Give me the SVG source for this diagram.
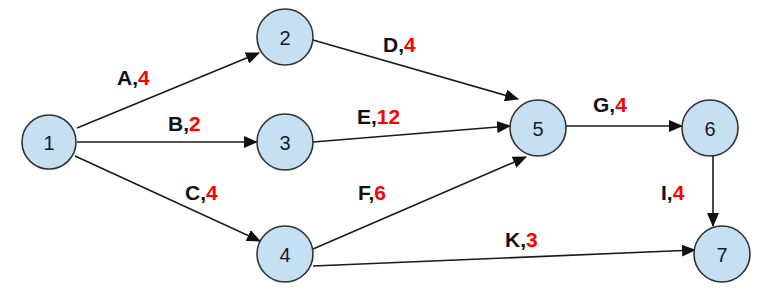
<svg xmlns="http://www.w3.org/2000/svg" width="778" height="298" viewBox="0 0 778 298">
<style>
.n{fill:#c6e0f3;stroke:#333;stroke-width:1.6}
.nt{font-family:"Liberation Sans",Arial,sans-serif;font-size:20px;fill:#1a1a2a;text-anchor:middle;dominant-baseline:central}
.e{stroke:#1a1a1a;stroke-width:1.6;fill:none;marker-end:url(#ah)}
.l{font-family:"Liberation Sans",Arial,sans-serif;font-size:21px;font-weight:bold;fill:#111}
.r{fill:#ff0000}
</style>
<defs>
<marker id="ah" markerUnits="userSpaceOnUse" markerWidth="14" markerHeight="12" refX="13" refY="6" orient="auto">
<path d="M0,0 L14,6 L0,12 Z" fill="#111"/>
</marker>
</defs>
<rect width="778" height="298" fill="#fff"/>
<g id="connectors">
<line class="e" x1="77" y1="128" x2="259" y2="53"/>
<line class="e" x1="77" y1="142" x2="257" y2="142"/>
<line class="e" x1="75" y1="156" x2="260" y2="241"/>
<line class="e" x1="313" y1="40" x2="518" y2="99"/>
<line class="e" x1="313" y1="142" x2="510" y2="126"/>
<line class="e" x1="313" y1="249" x2="526" y2="157"/>
<line class="e" x1="566" y1="126" x2="682" y2="126"/>
<line class="e" x1="713" y1="156" x2="713" y2="226"/>
<line class="e" x1="313" y1="266" x2="695" y2="250"/>
</g>
<g id="labels">
<text class="l" x="117" y="85">A,<tspan class="r">4</tspan></text>
<text class="l" x="168" y="131">B,<tspan class="r">2</tspan></text>
<text class="l" x="185" y="200">C,<tspan class="r">4</tspan></text>
<text class="l" x="383" y="52">D,<tspan class="r">4</tspan></text>
<text class="l" x="357" y="124">E,<tspan class="r">12</tspan></text>
<text class="l" x="358" y="200">F,<tspan class="r">6</tspan></text>
<text class="l" x="593" y="112">G,<tspan class="r">4</tspan></text>
<text class="l" x="661" y="200">I,<tspan class="r">4</tspan></text>
<text class="l" x="505" y="247">K,<tspan class="r">3</tspan></text>
</g>
<g id="node1"><circle class="n" cx="49" cy="142" r="27"/><text class="nt" x="49" y="143">1</text></g>
<g id="node2"><circle class="n" cx="285" cy="37" r="28"/><text class="nt" x="285" y="38">2</text></g>
<g id="node3"><circle class="n" cx="285" cy="142" r="28"/><text class="nt" x="285" y="143">3</text></g>
<g id="node4"><circle class="n" cx="285" cy="254" r="28"/><text class="nt" x="285" y="255">4</text></g>
<g id="node5"><circle class="n" cx="538" cy="128" r="28"/><text class="nt" x="538" y="129">5</text></g>
<g id="node6"><circle class="n" cx="710" cy="128" r="28"/><text class="nt" x="710" y="129">6</text></g>
<g id="node7"><circle class="n" cx="722" cy="254" r="28"/><text class="nt" x="722" y="255">7</text></g>
</svg>
